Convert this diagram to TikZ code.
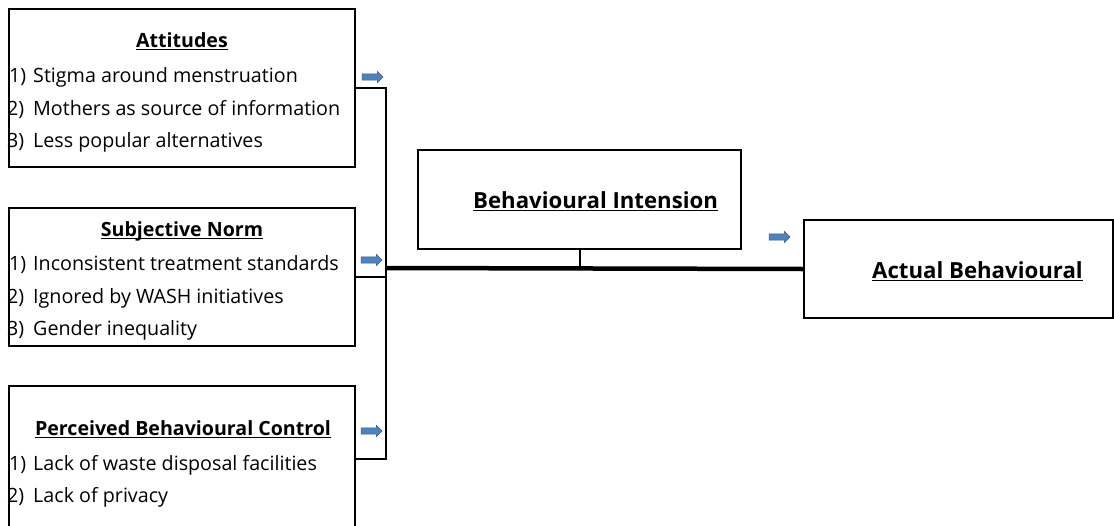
\documentclass[tikz,border=0pt]{standalone}
\usepackage{fontspec}
\setmainfont{Open Sans}
\usetikzlibrary{shapes.arrows}
\definecolor{arrfill}{HTML}{4F81BD}
\definecolor{arrdraw}{HTML}{385D8A}
\newcommand\ulx[1]{\setbox0\hbox{#1}\rlap{\rule[-3.2pt]{\wd0}{1.4pt}}\box0}
\tikzset{
  boxnode/.style={draw, line width=2pt, inner sep=0pt, anchor=north west},
  txt/.style={anchor=base west, inner sep=0pt, font=\fontsize{19.7}{23}\selectfont},
  ttl/.style={anchor=base, inner sep=0pt, font=\fontsize{19.6}{23}\selectfont\bfseries},
  ttlw/.style={anchor=base west, inner sep=0pt, font=\fontsize{22.2}{26}\selectfont\bfseries},
  blockarrow/.style={single arrow, fill=arrfill, draw=arrdraw, line width=0.6pt,
    minimum height=21pt, minimum width=11pt, inner sep=2.8pt, single arrow head extend=2.6pt},
  conn/.style={line width=2pt},
  bus/.style={line width=4.5pt}
}
\begin{document}
\begin{tikzpicture}[x=1pt,y=-1pt]
\clip (0,0) rectangle (1114,525);
\fill[white] (0,0) rectangle (1114,525);
% boxes
\node[boxnode, minimum width=346pt, minimum height=158pt] (att) at (8,8) {};
\node[boxnode, minimum width=346pt, minimum height=138pt] (sn) at (8,207) {};
\node[boxnode, minimum width=346pt, minimum height=146pt] (pbc) at (8,385) {};
\node[boxnode, minimum width=323pt, minimum height=99pt] (bi) at (417,149) {};
\node[boxnode, minimum width=309pt, minimum height=98pt] (act) at (803,219) {};
% Attitudes texts
\node[ttl] (attT) at (182,47) {\ulx{Attitudes}};
\node[txt] (att1n) at (9,82) {1)};
\node[txt] (att1) at (33,82) {Stigma around menstruation};
\node[txt] (att2n) at (7,115) {2)};
\node[txt] (att2) at (33,115) {Mothers as source of information};
\node[txt] (att3n) at (7,147) {3)};
\node[txt] (att3) at (33,147) {Less popular alternatives};
% Subjective norm texts
\node[ttl] (snT) at (182,236) {\ulx{Subjective Norm}};
\node[txt] (sn1n) at (9,270) {1)};
\node[txt] (sn1) at (33,270) {Inconsistent treatment standards};
\node[txt] (sn2n) at (7,303) {2)};
\node[txt] (sn2) at (33,303) {Ignored by WASH initiatives};
\node[txt] (sn3n) at (7,335) {3)};
\node[txt] (sn3) at (33,335) {Gender inequality};
% PBC texts
\node[ttl] (pbcT) at (183,435) {\ulx{Perceived Behavioural Control}};
\node[txt] (pbc1n) at (9,470) {1)};
\node[txt] (pbc1) at (33,470) {Lack of waste disposal facilities};
\node[txt] (pbc2n) at (7,502) {2)};
\node[txt] (pbc2) at (33,502) {Lack of privacy};
% right texts
\node[ttlw] (biT) at (473,208) {\ulx{Behavioural Intension}};
\node[ttlw] (actT) at (872,278) {\ulx{Actual Behavioural}};
% connectors
\coordinate (busL) at (386,268);
\draw[bus] (busL) -- (act.west);
\draw[conn] (att.east) -| (busL) |- (pbc.east);
\draw[conn] (sn.east) -- (sn.east -| busL);
\draw[conn] (bi.south) -- (bi.south |- busL);
% blue arrows
\node[blockarrow] (a1) at (371,77) {};
\node[blockarrow] (a2) at (370,260) {};
\node[blockarrow] (a3) at (370,431) {};
\node[blockarrow] (a4) at (778,237) {};
\end{tikzpicture}
\end{document}
